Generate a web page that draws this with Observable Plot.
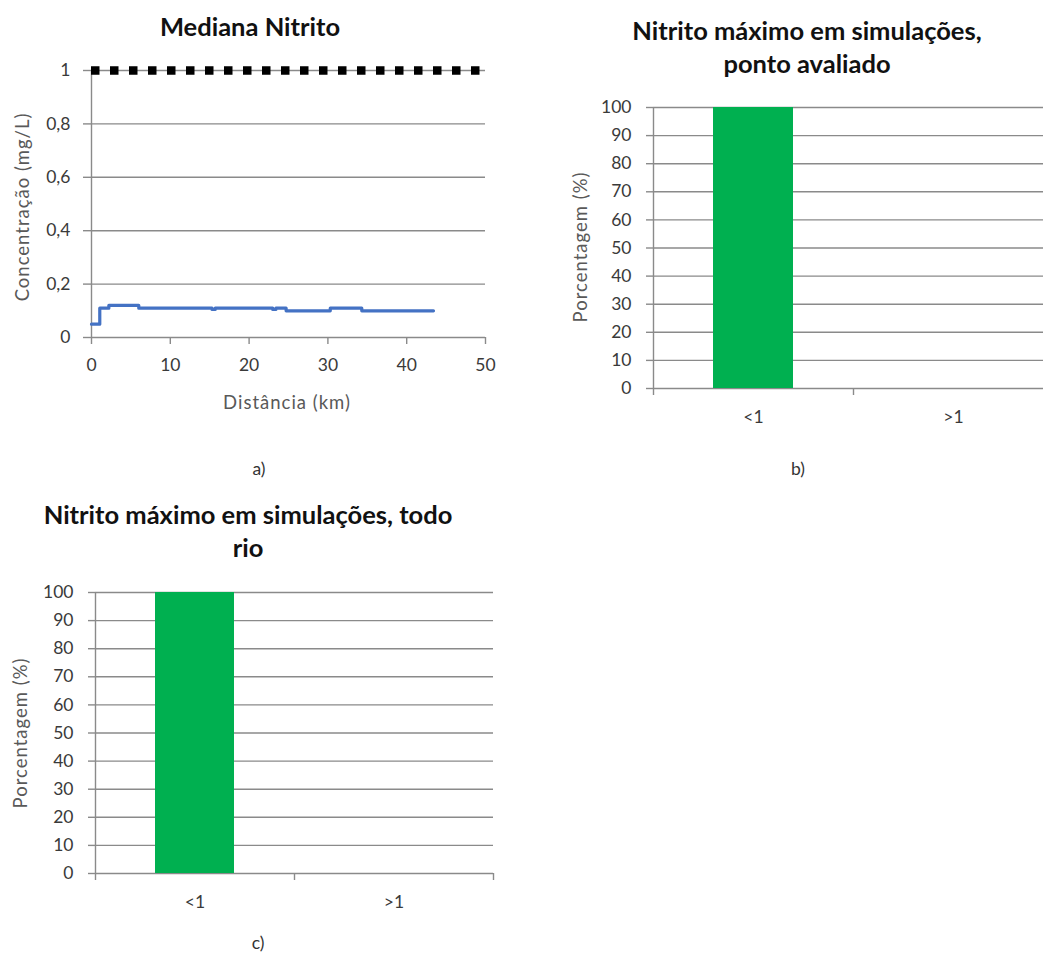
<!DOCTYPE html>
<html>
<head>
<meta charset="utf-8">
<script src="https://cdn.jsdelivr.net/npm/d3@7"></script>
<script src="https://cdn.jsdelivr.net/npm/@observablehq/plot@0.6"></script>
<style>
  html, body { margin: 0; padding: 0; background: #fff; overflow: hidden; }
  #page { position: relative; width: 1043px; height: 953px; overflow: hidden; background: #fff; font-family: Lato, "Open Sans", sans-serif; }
  .panel { position: absolute; overflow: visible; }
  .panel svg { overflow: visible; max-width: none !important; display: block; }
  .lbl { position: absolute; transform: translate(-50%, -50%); white-space: nowrap; font-family: Lato, sans-serif; }
  .title { font-weight: bold; font-size: 25.5px; color: #111; text-align: center; line-height: 33px; }
  .axt { font-size: 18.5px; letter-spacing: 1px; color: #595959; }
  .rot { transform: translate(-50%, -50%) rotate(-90deg); }
  .tag { font-size: 17.5px; color: #333; }
</style>
</head>
<body>
<div id="page">
  <div class="panel" id="pa" style="left:0px; top:0px; width:500px; height:420px;"></div>
  <div class="panel" id="pb" style="left:540px; top:0px; width:513px; height:480px;"></div>
  <div class="panel" id="pc" style="left:0px; top:490px; width:510px; height:463px;"></div>

  <div class="lbl title" style="left:250px; top:26px;">Mediana Nitrito</div>
  <div class="lbl axt rot" style="left:22px; top:207px;">Concentração (mg/L)</div>
  <div class="lbl axt" style="left:287px; top:402px;">Distância (km)</div>
  <div class="lbl tag" style="left:259px; top:468px;">a)</div>

  <div class="lbl title" style="left:807px; top:47px;">Nitrito máximo em simulações,<br>ponto avaliado</div>
  <div class="lbl axt rot" style="left:580px; top:247px;">Porcentagem (%)</div>
  <div class="lbl tag" style="left:798px; top:468px;">b)</div>

  <div class="lbl title" style="left:248px; top:531px;">Nitrito máximo em simulações, todo<br>rio</div>
  <div class="lbl axt rot" style="left:20px; top:733px;">Porcentagem (%)</div>
  <div class="lbl tag" style="left:258px; top:942px;">c)</div>
</div>
<script>
// ---- data: panel a (median nitrite along the river) ----
const distanceKm = [0, 1.05, 2.2, 6.0, 15.3, 15.7, 23.0, 23.4, 24.7, 30.3, 34.3, 43.4];
const medianNitrite = [0.05, 0.11, 0.12, 0.11, 0.105, 0.11, 0.105, 0.11, 0.10, 0.11, 0.10, 0.10];
const limitNitrite = [1];
const xTicksA = [0, 10, 20, 30, 40, 50];
const yTicksA = [0, 0.2, 0.4, 0.6, 0.8, 1];

// ---- data: panels b and c (percentage of simulations) ----
const classes = ["<1", ">1"];
const pctPonto = [100, 0];
const pctRio = [100, 0];
const yTicksPct = [0, 10, 20, 30, 40, 50, 60, 70, 80, 90, 100];

const GRID = "#8a8a8a";
const GREEN = "#00B050";
const BLUE = "#4472C4";
const TICKTXT = "#3a3a3a";

const baseStyle = {fontFamily: "Lato, sans-serif", fontSize: "17.5px", color: TICKTXT, background: "transparent", overflow: "visible", maxWidth: "none"};

// Panel a
const lineData = distanceKm.map((k, i) => ({km: k, v: medianNitrite[i]}));
const chartA = Plot.plot({
  width: 500, height: 420,
  marginLeft: 91, marginRight: 15, marginTop: 70, marginBottom: 83,
  style: baseStyle,
  x: {domain: [0, 50]},
  y: {domain: [0, 1]},
  marks: [
    Plot.ruleY(yTicksA, {stroke: GRID, strokeWidth: 1.4}),
    Plot.axisY({ticks: yTicksA, tickSize: 8, tickPadding: 13, label: null, stroke: GRID, strokeWidth: 1.4,
      tickFormat: d => String(d).replace(".", ",")}),
    Plot.axisX({ticks: xTicksA, tickSize: 7, tickPadding: 14, label: null, stroke: GRID, strokeWidth: 1.4}),
    Plot.gridX({ticks: [0], stroke: GRID, strokeOpacity: 1, strokeWidth: 1.4}),
    Plot.line(lineData, {x: "km", y: "v", curve: "step-after", stroke: BLUE, strokeWidth: 3.2}),
    Plot.ruleY(limitNitrite, {stroke: "#000", strokeWidth: 8.5, strokeDasharray: "8.5,10.5"})
  ]
});
document.getElementById("pa").appendChild(chartA);

function barChart(values, opts) {
  const data = classes.map((c, i) => ({c, v: values[i]}));
  const step = (opts.width - opts.marginLeft - opts.marginRight) / classes.length;
  return Plot.plot({
    ...opts,
    style: baseStyle,
    x: {domain: classes, padding: 0},
    y: {domain: [0, 100]},
    marks: [
      Plot.ruleY(yTicksPct, {stroke: GRID, strokeWidth: 1.4}),
      Plot.gridX({ticks: [classes[0]], dx: -step / 2, stroke: GRID, strokeOpacity: 1, strokeWidth: 1.4}),
      Plot.axisY({ticks: yTicksPct, tickSize: 7, tickPadding: 15, label: null, stroke: GRID, strokeWidth: 1.4}),
      Plot.axisX({tickSize: 7, dx: -step / 2, tickFormat: () => "", label: null, stroke: GRID, strokeWidth: 1.4}),
      Plot.axisX({ticks: [classes[classes.length - 1]], tickSize: 7, dx: step / 2, tickFormat: () => "", label: null, stroke: GRID, strokeWidth: 1.4}),
      Plot.axisX({tickSize: 0, tickPadding: 22, label: null}),
      Plot.barY(data, {x: "c", y: "v", fill: GREEN, insetLeft: 60, insetRight: 60})
    ]
  });
}

document.getElementById("pb").appendChild(barChart(pctPonto, {
  width: 513, height: 480, marginLeft: 113, marginRight: 0, marginTop: 107, marginBottom: 92
}));
document.getElementById("pc").appendChild(barChart(pctRio, {
  width: 510, height: 463, marginLeft: 95, marginRight: 17, marginTop: 102, marginBottom: 80
}));
</script>
</body>
</html>
